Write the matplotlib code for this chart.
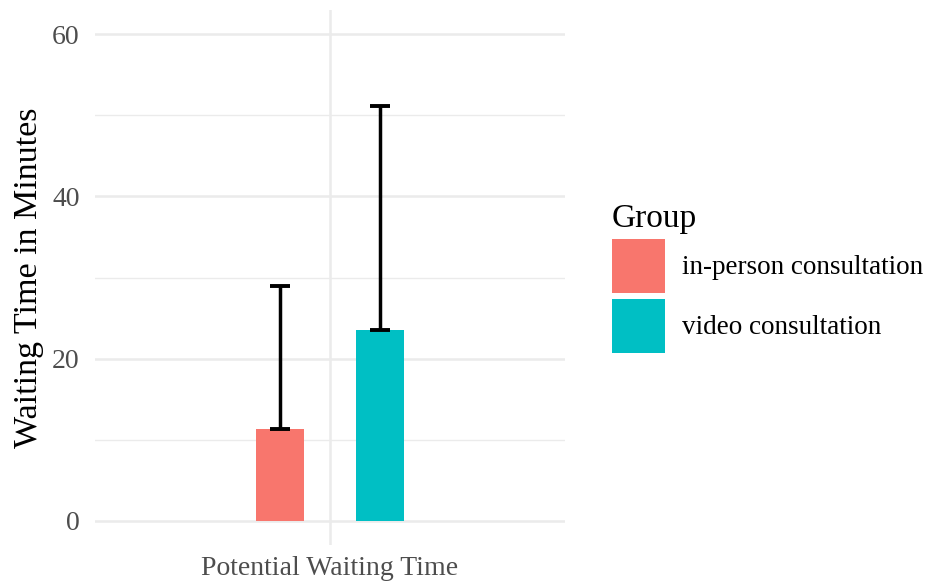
import matplotlib.pyplot as plt
from matplotlib.patches import Patch
from matplotlib.ticker import MultipleLocator

groups = ["in-person consultation", "video consultation"]
means = [11.3, 23.5]
sds = [17.7, 27.7]
colors = ["#F8766D", "#00BFC4"]
category = "Potential Waiting Time"

plt.rcParams['font.family'] = ['Liberation Serif', 'DejaVu Serif']

fig = plt.figure(figsize=(9.3, 5.82), dpi=100)
ax = fig.add_axes([95/930, 37/582, 470/930, 535/582])

offsets = [-0.127, 0.127]
for i in range(len(groups)):
    x = 1 + offsets[i]
    ax.bar(x, means[i], width=0.123, color=colors[i], zorder=2)
    ax.errorbar(x, means[i], yerr=[[0], [sds[i]]], color="black",
                elinewidth=2.5, capsize=7.5, capthick=2.8, zorder=3)

ax.set_xlim(0.4, 1.6)
ax.set_ylim(-3, 63)
ax.set_xticks([1])
ax.set_xticklabels([category])
ax.yaxis.set_major_locator(MultipleLocator(20))
ax.yaxis.set_minor_locator(MultipleLocator(10))
ax.grid(True, which="major", color="#EBEBEB", linewidth=1.8, zorder=0)
ax.grid(True, which="minor", axis="y", color="#EBEBEB", linewidth=1.0, zorder=0)
ax.set_axisbelow(True)
for s in ax.spines.values():
    s.set_visible(False)
ax.tick_params(which="both", length=0, labelsize=20, labelcolor="#4D4D4D")
ax.tick_params(axis="y", pad=11)
ax.tick_params(axis="x", pad=8)
ax.set_ylabel("Waiting Time in Minutes", fontsize=24.5, labelpad=6)

handles = [Patch(facecolor=c, edgecolor="none") for c in colors]
leg = fig.legend(handles, groups, loc="upper left", bbox_to_anchor=(612/930, 1 - 203/582),
                 frameon=False, fontsize=19.5, title="Group", title_fontsize=24,
                 alignment="left", handlelength=1.95, handleheight=2.7,
                 handletextpad=0.65, labelspacing=0.2, borderpad=0, borderaxespad=0)

fig.savefig("out.png", dpi=100)
